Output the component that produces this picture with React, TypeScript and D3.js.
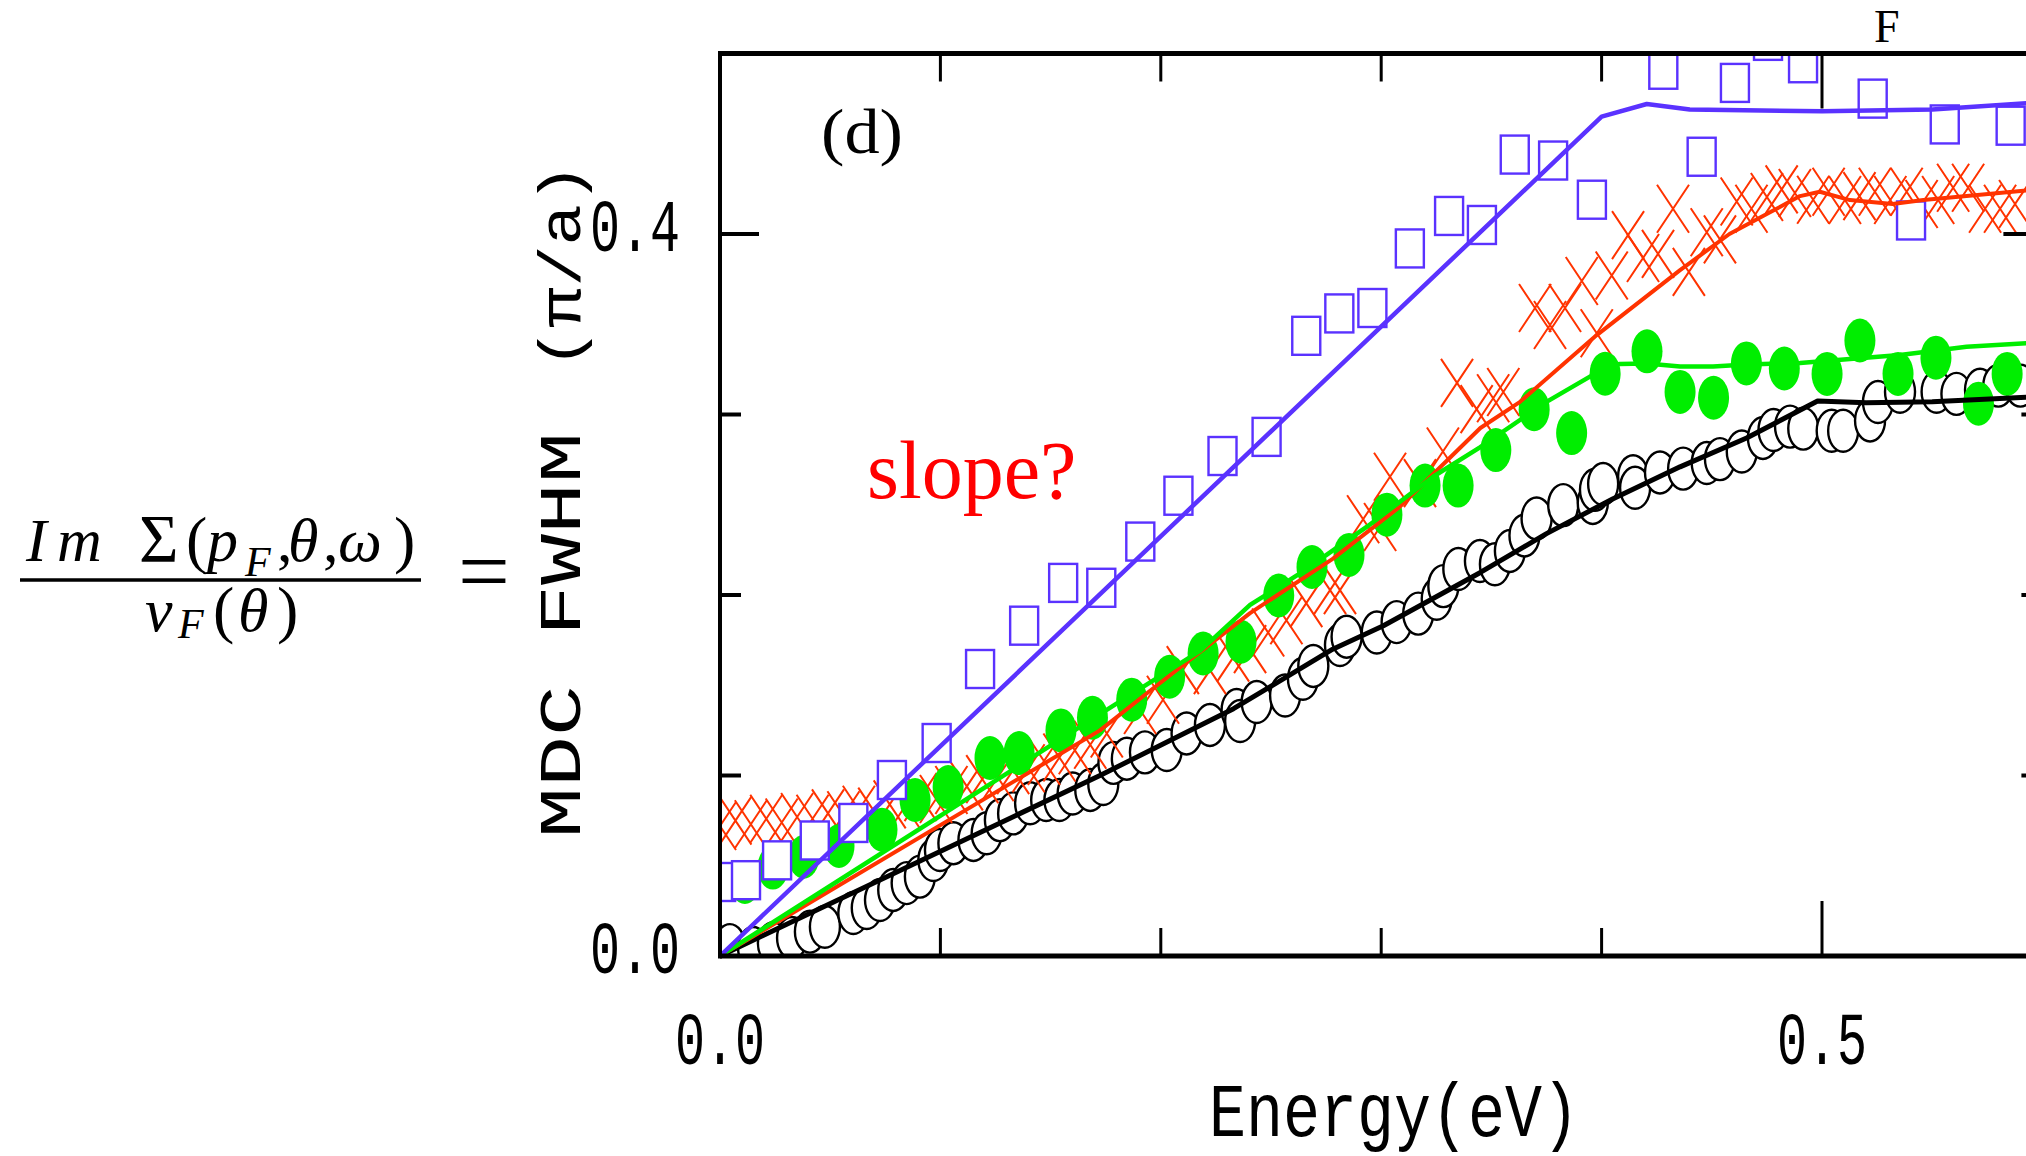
import React from 'react';
import * as d3 from 'd3';

// ---- data ----
const purpleX = [0.0005, 0.0118, 0.0259, 0.043, 0.0605, 0.078, 0.0983, 0.118, 0.138, 0.1557, 0.173, 0.1907, 0.208, 0.228, 0.248, 0.266, 0.281, 0.296, 0.313, 0.3308, 0.3457, 0.3606, 0.378, 0.3956, 0.428, 0.4454, 0.4605, 0.4755, 0.4914, 0.523, 0.5404, 0.5557, 0.5856];
const purpleY = [0.041, 0.042, 0.053, 0.064, 0.0737, 0.0975, 0.118, 0.159, 0.183, 0.2067, 0.204, 0.2296, 0.255, 0.277, 0.2876, 0.3436, 0.356, 0.359, 0.392, 0.41, 0.405, 0.444, 0.4407, 0.419, 0.491, 0.4428, 0.4837, 0.507, 0.4946, 0.475, 0.4075, 0.4607, 0.46];

const greenX = [0.0113, 0.024, 0.038, 0.054, 0.0735, 0.0885, 0.1035, 0.1225, 0.1357, 0.1547, 0.169, 0.1868, 0.204, 0.2192, 0.2364, 0.2535, 0.2686, 0.2854, 0.3026, 0.3199, 0.3349, 0.352, 0.3694, 0.3864, 0.4016, 0.4206, 0.4356, 0.4508, 0.4657, 0.4829, 0.5023, 0.5172, 0.5345, 0.5517, 0.571, 0.584];
const greenY = [0.041, 0.049, 0.055, 0.061, 0.07, 0.0864, 0.0936, 0.1097, 0.1124, 0.125, 0.132, 0.142, 0.1547, 0.1676, 0.1741, 0.1997, 0.2155, 0.2222, 0.2445, 0.2606, 0.2606, 0.2803, 0.3029, 0.2897, 0.3226, 0.335, 0.3125, 0.3093, 0.3283, 0.3255, 0.3225, 0.341, 0.3225, 0.3315, 0.306, 0.3225];

const blackX = [0.0045, 0.015, 0.024, 0.0327, 0.0408, 0.0476, 0.0605, 0.0666, 0.0726, 0.0786, 0.0847, 0.0907, 0.0968, 0.0998, 0.1059, 0.115, 0.121, 0.127, 0.133, 0.1407, 0.148, 0.154, 0.16, 0.168, 0.1739, 0.1785, 0.1846, 0.1928, 0.2027, 0.2117, 0.2223, 0.2344, 0.236, 0.2435, 0.2564, 0.2645, 0.2692, 0.2813, 0.2843, 0.298, 0.307, 0.3168, 0.3252, 0.3282, 0.335, 0.3448, 0.3516, 0.3584, 0.365, 0.3705, 0.3826, 0.396, 0.397, 0.4007, 0.4143, 0.4152, 0.4265, 0.437, 0.4477, 0.4537, 0.4636, 0.4732, 0.478, 0.4855, 0.4915, 0.5044, 0.5096, 0.5218, 0.5254, 0.5354, 0.552, 0.561, 0.5717, 0.58, 0.59];
const blackY = [0.006, 0.0044, 0.007, 0.01, 0.0135, 0.0162, 0.0238, 0.0266, 0.031, 0.0366, 0.0404, 0.044, 0.0532, 0.0587, 0.0625, 0.0643, 0.068, 0.0753, 0.079, 0.0846, 0.0864, 0.0864, 0.09, 0.092, 0.0953, 0.107, 0.1093, 0.1128, 0.1141, 0.1233, 0.128, 0.1363, 0.1302, 0.1407, 0.1443, 0.1536, 0.1607, 0.1723, 0.1769, 0.1792, 0.185, 0.1897, 0.1979, 0.2049, 0.2144, 0.2188, 0.217, 0.2244, 0.233, 0.2424, 0.2498, 0.251, 0.2583, 0.2615, 0.2658, 0.2594, 0.2679, 0.27, 0.2731, 0.2753, 0.2795, 0.287, 0.2914, 0.2933, 0.2922, 0.291, 0.291, 0.2967, 0.3069, 0.3126, 0.3126, 0.3114, 0.3137, 0.316, 0.316];

const redX = [0.0, 0.007, 0.014, 0.021, 0.028, 0.035, 0.042, 0.049, 0.056, 0.063, 0.07, 0.077, 0.084, 0.091, 0.098, 0.105, 0.112, 0.119, 0.126, 0.133, 0.14, 0.147, 0.154, 0.161, 0.168, 0.1755, 0.1906, 0.201, 0.21, 0.2223, 0.2328, 0.2405, 0.2487, 0.257, 0.266, 0.2768, 0.2813, 0.2918, 0.2995, 0.304, 0.3176, 0.328, 0.3344, 0.3433, 0.3508, 0.3554, 0.3698, 0.3766, 0.3834, 0.391, 0.3978, 0.4046, 0.412, 0.4188, 0.4256, 0.4324, 0.4396, 0.4477, 0.4537, 0.4613, 0.468, 0.475, 0.4817, 0.4877, 0.496, 0.503, 0.5104, 0.517, 0.524, 0.531, 0.5384, 0.5452, 0.5527, 0.5595, 0.5663, 0.574, 0.5808, 0.5876];
const redY = [0.072, 0.075, 0.073, 0.076, 0.074, 0.077, 0.076, 0.079, 0.078, 0.081, 0.08, 0.084, 0.083, 0.088, 0.087, 0.092, 0.094, 0.098, 0.099, 0.103, 0.104, 0.108, 0.11, 0.114, 0.117, 0.1233, 0.1363, 0.142, 0.1584, 0.1584, 0.1653, 0.17, 0.1792, 0.186, 0.1955, 0.2027, 0.2027, 0.242, 0.2377, 0.2655, 0.262, 0.2795, 0.3175, 0.303, 0.309, 0.3125, 0.359, 0.3496, 0.359, 0.374, 0.345, 0.377, 0.3994, 0.3867, 0.389, 0.414, 0.379, 0.401, 0.397, 0.418, 0.414, 0.4205, 0.4247, 0.4227, 0.419, 0.4234, 0.4188, 0.421, 0.4234, 0.4188, 0.4234, 0.4166, 0.4188, 0.4256, 0.4256, 0.414, 0.414, 0.4166];

const purpleLineX = [0, 0.4, 0.4205, 0.44, 0.5, 0.55, 0.6];
const purpleLineY = [0, 0.465, 0.472, 0.469, 0.468, 0.469, 0.473];
const greenLineX = [0, 0.1724, 0.2178, 0.2405, 0.263, 0.2934, 0.3235, 0.3448, 0.375, 0.3947, 0.408, 0.4205, 0.4356, 0.4506, 0.4658, 0.49, 0.5354, 0.5656, 0.6];
const greenLineY = [0, 0.134, 0.169, 0.1945, 0.2118, 0.2377, 0.2655, 0.2818, 0.307, 0.321, 0.328, 0.3283, 0.3266, 0.3266, 0.3277, 0.3285, 0.333, 0.3375, 0.34];
const redLineX = [0, 0.1724, 0.195, 0.2405, 0.278, 0.3085, 0.345, 0.363, 0.3978, 0.4356, 0.458, 0.4764, 0.49, 0.499, 0.5127, 0.532, 0.546, 0.5656, 0.6];
const redLineY = [0, 0.125, 0.1468, 0.19, 0.22, 0.249, 0.2925, 0.307, 0.344, 0.38, 0.4, 0.412, 0.421, 0.4234, 0.4188, 0.4166, 0.4188, 0.421, 0.425];
const blackLineX = [0, 0.1724, 0.233, 0.278, 0.301, 0.345, 0.375, 0.405, 0.4356, 0.4658, 0.498, 0.52, 0.55, 0.6];
const blackLineY = [0, 0.1, 0.137, 0.17, 0.183, 0.2125, 0.234, 0.2532, 0.271, 0.287, 0.3075, 0.3065, 0.307, 0.31];

const xMinorTicks = [0.1, 0.2, 0.3, 0.4];
const xMajorTicks = [0.5];
const yMinorTicks = [0.1, 0.2, 0.3];
const yMajorTicks = [0.0, 0.4];
const xTickLabels = ['0.0', '0.5'];
const xTickValues = [0.0, 0.5];
const yTickLabels = ['0.0', '0.4'];
const yTickValues = [0.0, 0.4];

const PURPLE = '#5a32ff';
const RED = '#ff3300';
const GREEN = '#00ee00';
const MONO = '"Liberation Mono", "DejaVu Sans Mono", monospace';
const SERIF = '"Liberation Serif", "DejaVu Serif", serif';

const zip = (a: number[], b: number[]): [number, number][] => a.map((v, i) => [v, b[i]]);

export default function App() {
  const W = 2026, H = 1156;
  const x = d3.scaleLinear().domain([0, 0.6]).range([720, 2042.4]);
  const y = d3.scaleLinear().domain([0, 0.5]).range([956, 53.5]);
  const line = d3.line<[number, number]>().x(d => x(d[0])).y(d => y(d[1]));

  const xL = x(0), xR = x(0.6), yB = y(0), yT = y(0.5);

  return (
    <svg width={W} height={H} style={{ position: 'absolute', left: 0, top: 0, background: '#fff' }}>
      <defs>
        <clipPath id="plotClip">
          <rect x={xL} y={yT} width={xR - xL} height={yB - yT} />
        </clipPath>
      </defs>
      <rect x={0} y={0} width={W} height={H} fill="#fff" />

      <g clipPath="url(#plotClip)">
        {zip(blackX, blackY).map((d, i) => (
          <ellipse key={'b' + i} cx={x(d[0])} cy={y(d[1])} rx={15} ry={21} fill="#fff" stroke="#000" strokeWidth={2.4} />
        ))}
        {zip(redX, redY).map((d, i) => {
          const cx = x(d[0]), cy = y(d[1]), hw = 16, hh = 24;
          return (
            <path key={'r' + i} d={`M${cx - hw},${cy - hh}L${cx + hw},${cy + hh}M${cx - hw},${cy + hh}L${cx + hw},${cy - hh}`} stroke={RED} strokeWidth={2} fill="none" />
          );
        })}
        {zip(greenX, greenY).map((d, i) => (
          <ellipse key={'g' + i} cx={x(d[0])} cy={y(d[1])} rx={15.5} ry={22} fill={GREEN} />
        ))}
        {zip(purpleX, purpleY).map((d, i) => (
          <rect key={'p' + i} x={x(d[0]) - 14} y={y(d[1]) - 19} width={28} height={38} fill="#fff" stroke={PURPLE} strokeWidth={2.4} />
        ))}
        <path d={line(zip(blackLineX, blackLineY)) || ''} fill="none" stroke="#000" strokeWidth={5} strokeLinejoin="round" />
        <path d={line(zip(redLineX, redLineY)) || ''} fill="none" stroke={RED} strokeWidth={4} strokeLinejoin="round" />
        <path d={line(zip(greenLineX, greenLineY)) || ''} fill="none" stroke={GREEN} strokeWidth={4.5} strokeLinejoin="round" />
        <path d={line(zip(purpleLineX, purpleLineY)) || ''} fill="none" stroke={PURPLE} strokeWidth={4.5} strokeLinejoin="round" />
      </g>

      {/* frame */}
      <line x1={xL} x2={xR + 3} y1={yB} y2={yB} stroke="#000" strokeWidth={5} />
      <line x1={xL} x2={xR + 3} y1={yT} y2={yT} stroke="#000" strokeWidth={5} />
      <line x1={xL} x2={xL} y1={yT - 2.5} y2={yB + 2.5} stroke="#000" strokeWidth={4} />
      <line x1={xR} x2={xR} y1={yT - 2.5} y2={yB + 2.5} stroke="#000" strokeWidth={4} />

      {/* x ticks bottom & top */}
      {xMinorTicks.map(t => (
        <g key={'xm' + t}>
          <line x1={x(t)} x2={x(t)} y1={yB} y2={yB - 28} stroke="#000" strokeWidth={3} />
          <line x1={x(t)} x2={x(t)} y1={yT} y2={yT + 28} stroke="#000" strokeWidth={3} />
        </g>
      ))}
      {xMajorTicks.map(t => (
        <g key={'xM' + t}>
          <line x1={x(t)} x2={x(t)} y1={yB} y2={yB - 55} stroke="#000" strokeWidth={3} />
          <line x1={x(t)} x2={x(t)} y1={yT} y2={yT + 55} stroke="#000" strokeWidth={3} />
        </g>
      ))}
      {/* y ticks left & right */}
      {yMinorTicks.map(t => (
        <g key={'ym' + t}>
          <line x1={xL} x2={xL + 21} y1={y(t)} y2={y(t)} stroke="#000" strokeWidth={4} />
          <line x1={xR} x2={xR - 21} y1={y(t)} y2={y(t)} stroke="#000" strokeWidth={4} />
        </g>
      ))}
      {yMajorTicks.map(t => (
        <g key={'yM' + t}>
          <line x1={xL} x2={xL + 39} y1={y(t)} y2={y(t)} stroke="#000" strokeWidth={4} />
          <line x1={xR} x2={xR - 39} y1={y(t)} y2={y(t)} stroke="#000" strokeWidth={4} />
        </g>
      ))}

      {/* tick labels */}
      {xTickLabels.map((s, i) => (
        <text key={'xl' + i} x={x(xTickValues[i]) - 45} y={1064} fontFamily={MONO} fontSize={74} textLength={90} lengthAdjust="spacingAndGlyphs">{s}</text>
      ))}
      {yTickLabels.map((s, i) => (
        <text key={'yl' + i} x={590} y={y(yTickValues[i]) + 17} fontFamily={MONO} fontSize={74} textLength={90} lengthAdjust="spacingAndGlyphs">{s}</text>
      ))}

      {/* axis titles */}
      <text x={1209} y={1136} fontFamily={MONO} fontSize={76} textLength={370} lengthAdjust="spacingAndGlyphs">Energy(eV)</text>
      <g transform="rotate(-90)">
        <text x={-838} y={580} fontFamily={MONO} fontSize={60} textLength={153} lengthAdjust="spacingAndGlyphs">MDC</text>
        <text x={-636} y={580} fontFamily={MONO} fontSize={60} textLength={204} lengthAdjust="spacingAndGlyphs">FWHM</text>
        <text x={-369} y={580} fontFamily={MONO} fontSize={60} textLength={206} lengthAdjust="spacingAndGlyphs">(π/a)</text>
      </g>

      {/* formula (numerator and denominator in one text element) */}
      <text fontFamily={SERIF} fontSize={62}>
        <tspan x={26} y={561} fontStyle="italic">I</tspan>
        <tspan x={57} fontStyle="italic">m</tspan>
        <tspan x={139} fontSize={68}>Σ</tspan>
        <tspan x={186} fontSize={64}>(</tspan>
        <tspan x={207} fontStyle="italic">p</tspan>
        <tspan x={245} y={576} fontSize={42} fontStyle="italic">F</tspan>
        <tspan x={277} y={561}>,</tspan>
        <tspan x={288} fontStyle="italic">θ</tspan>
        <tspan x={323}>,</tspan>
        <tspan x={338} fontStyle="italic">ω</tspan>
        <tspan x={394} fontSize={64}>)</tspan>
        <tspan x={145} y={631} fontStyle="italic">v</tspan>
        <tspan x={178} y={638} fontSize={42} fontStyle="italic">F</tspan>
        <tspan x={213} y={631} fontSize={64}>(</tspan>
        <tspan x={238} fontStyle="italic">θ</tspan>
        <tspan x={277} fontSize={64}>)</tspan>
      </text>
      <line x1={20} x2={421} y1={580} y2={580} stroke="#000" strokeWidth={3.4} />
      <text x={458} y={602} fontFamily={SERIF} fontSize={92}>=</text>

      {/* annotations */}
      <text x={821} y={153} fontFamily={SERIF} fontSize={64} textLength={82} lengthAdjust="spacingAndGlyphs">(d)</text>
      <text x={867} y={498} fontFamily={SERIF} fontSize={82} fill="#ff0000">slope?</text>
      <text x={1874} y={42} fontFamily={SERIF} fontSize={46}>F</text>
    </svg>
  );
}
